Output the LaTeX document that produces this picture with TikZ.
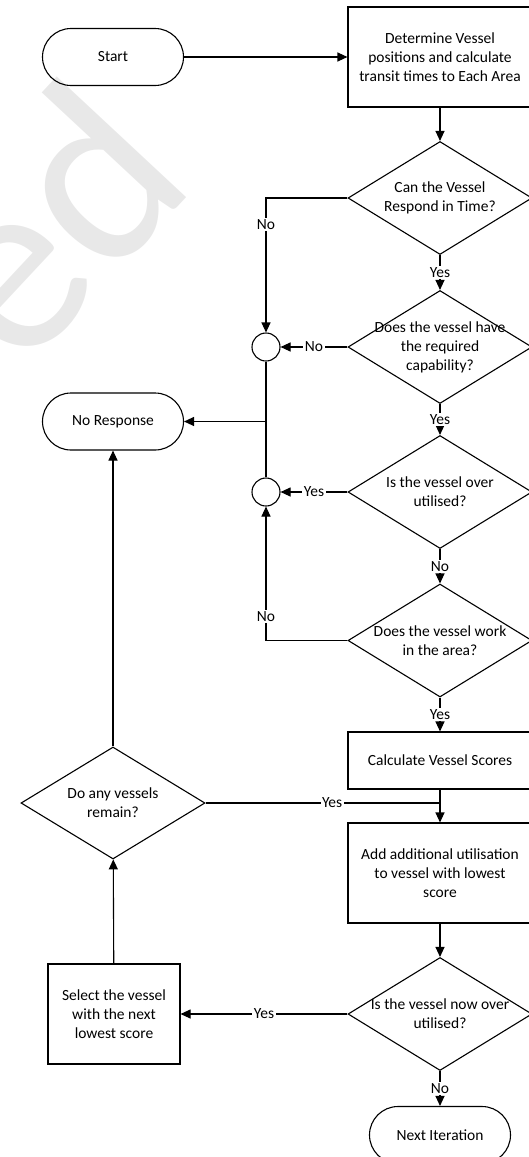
\documentclass[tikz,border=0pt]{standalone}
\usepackage{fontspec}
\setmainfont{Carlito}
\usetikzlibrary{shapes.geometric,arrows.meta}

\begin{document}
\begin{tikzpicture}[x=1pt,y=-1pt,line width=1.1pt]
\tikzstyle{every node}+=[inner sep=0pt,font=\fontsize{15.5}{19}\selectfont]
\tikzstyle{term}=[draw,rounded corners=28.5pt,minimum width=141pt,minimum height=57pt]
\tikzstyle{process}=[draw,align=center,minimum width=184pt,minimum height=100pt]
\tikzstyle{decision}=[draw,diamond,minimum width=184pt,minimum height=113pt]
\tikzstyle{qtext}=[align=center]
\tikzstyle{joint}=[draw,circle,minimum size=28pt]
\tikzstyle{arr}=[-{Triangle[length=10pt,width=9pt]}]
\tikzstyle{lbl}=[fill=white,inner sep=1.5pt]
\useasboundingbox (0,0) rectangle (529,1157);
\node[rotate=47,anchor=base east,text=black!9,font=\fontsize{255}{255}\selectfont] (wm) at (199,184) {ed};

\node[term] (start) at (113,57) {Start};
\node[process] (det) at (440,57) {Determine Vessel\\positions and calculate\\transit times to Each Area};
\node[decision] (q1) at (440,198) {};
\node[qtext] (q1t) at (q1) {Can the Vessel\\Respond in Time?};
\node[decision] (q2) at (440,347) {};
\node[qtext] (q2t) at (q2) {Does the vessel have\\the required\\capability?};
\node[decision] (q3) at (440,492) {};
\node[qtext] (q3t) at (q3) {Is the vessel over\\utilised?};
\node[decision] (q4) at (440,640.5) {};
\node[qtext] (q4t) at (q4) {Does the vessel work\\in the area?};
\node[process,minimum height=57pt] (calc) at (440,760.5) {Calculate Vessel Scores};
\node[process] (add) at (440,873) {Add additional utilisation\\to vessel with lowest\\score};
\node[decision] (q6) at (440,1014) {};
\node[qtext] (q6t) at (q6) {Is the vessel now over\\utilised?};
\node[term] (next) at (440,1135) {Next Iteration};
\node[joint] (c1) at (266,347) {};
\node[joint] (c2) at (266,492) {};
\node[term] (nr) at (113,421.5) {No Response};
\node[decision,minimum height=112pt] (q5) at (113,803) {};
\node[qtext] (q5t) at (q5) {Do any vessels\\remain?};
\node[process,minimum width=132pt] (sel) at (114,1014) {Select the vessel\\with the next\\lowest score};

\draw[arr] (start) -- (det);
\draw[arr] (det) -- (q1);
\draw[arr] (q1.west) -| (c1.north) node[lbl,pos=0.6] {No};
\draw[arr] (q1.south) -- (q2.north) node[lbl,midway] {Yes};
\draw[arr] (q2.west) -- (c1) node[lbl,midway] {No};
\draw[arr] (q2.south) -- (q3.north) node[lbl,midway] {Yes};
\draw[arr] (q3.west) -- (c2) node[lbl,midway] {Yes};
\draw[arr] (q3.south) -- (q4.north) node[lbl,midway] {No};
\draw[arr] (q4.west) -| (c2.south) node[lbl,pos=0.59] {No};
\draw[arr] (q4.south) -- (calc.north) node[lbl,midway] {Yes};
\draw (c1) -- (c2);
\coordinate (j1) at (c1 |- nr.east);
\draw[arr] (j1) -- (nr);
\draw[arr] (calc) -- (add);
\coordinate (j2) at (q5.east -| add.north);
\draw (q5.east) -- (j2) node[lbl,pos=0.54] {Yes};
\draw[arr] (add) -- (q6);
\draw[arr] (q6.west) -- (sel) node[lbl,midway] {Yes};
\draw[arr] (q6.south) -- (next.north) node[lbl,midway] {No};
\draw[arr] (sel) -- (q5);
\draw[arr] (q5) -- (nr);
\end{tikzpicture}
\end{document}
